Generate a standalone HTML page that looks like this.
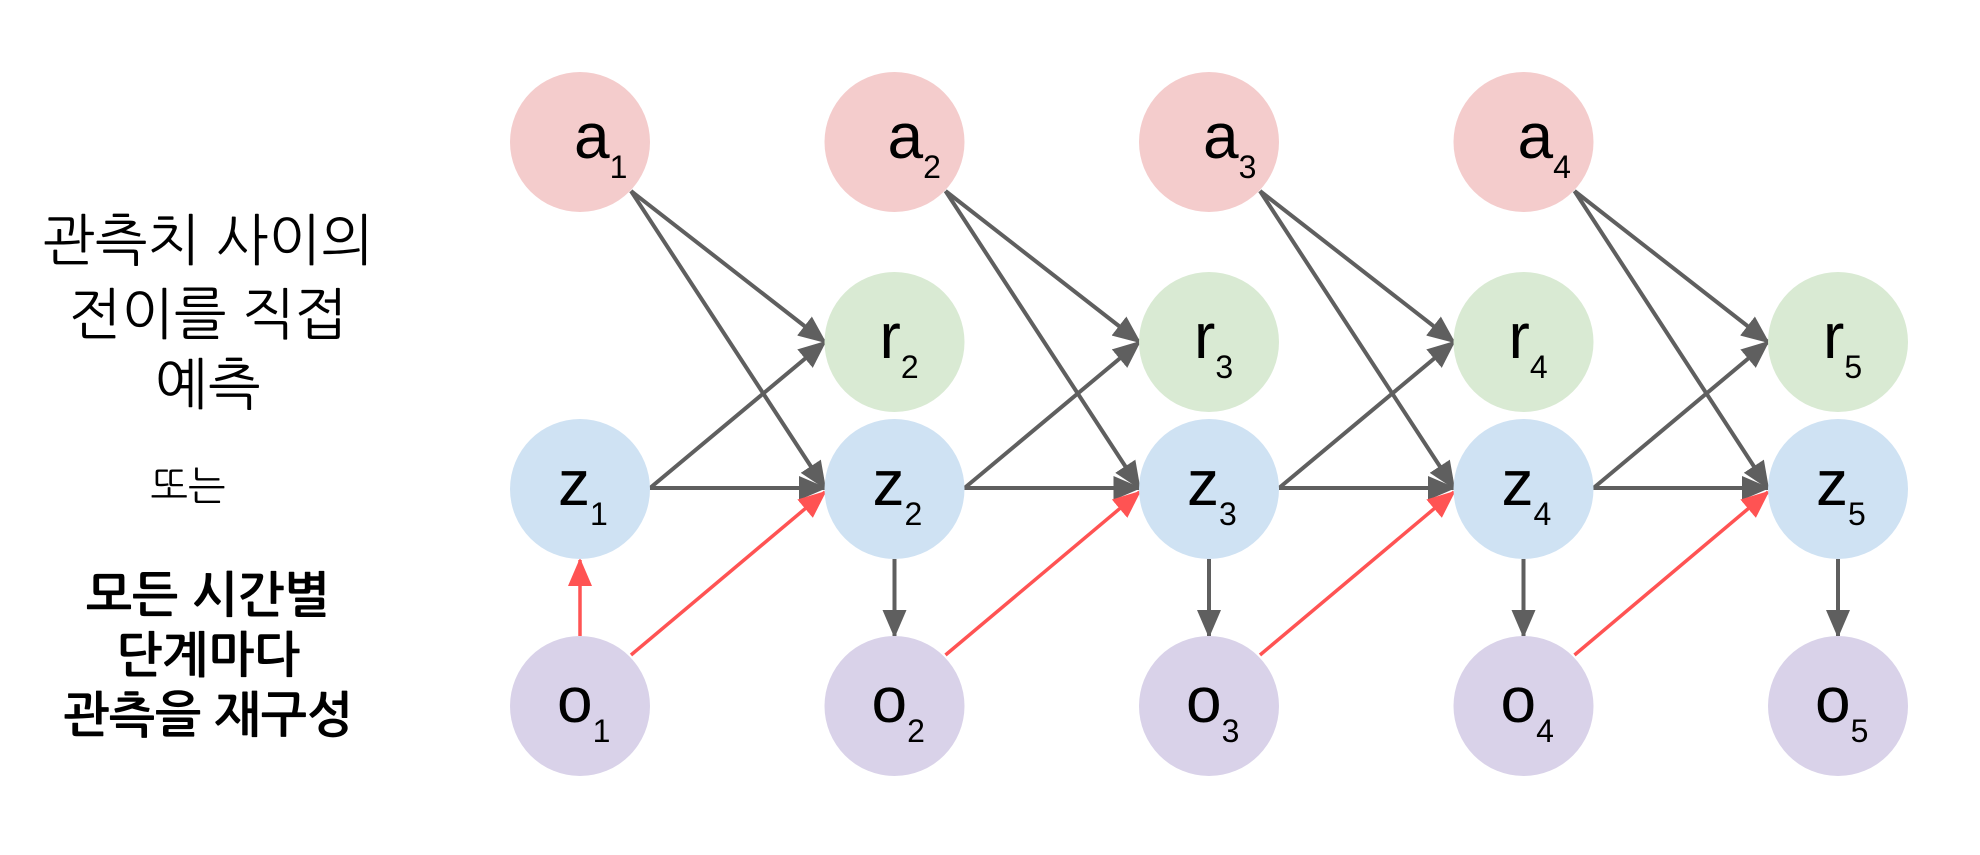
<!DOCTYPE html>
<html><head><meta charset="utf-8"><style>
html,body{margin:0;padding:0;background:#fff;}
svg{display:block;}
</style></head><body>
<svg width="1980" height="855" viewBox="0 0 1980 855" xmlns="http://www.w3.org/2000/svg">
<defs>
<marker id="g" markerUnits="userSpaceOnUse" markerWidth="28" markerHeight="24" refX="26" refY="12" orient="auto"><path d="M0,0 L28,12 L0,24 Z" fill="#5f5f5f"/></marker>
<marker id="rd" markerUnits="userSpaceOnUse" markerWidth="28" markerHeight="24" refX="26" refY="12" orient="auto"><path d="M0,0 L28,12 L0,24 Z" fill="#ff5353"/></marker>
</defs>
<g font-family="'Liberation Sans','NanumGothic','Noto Sans CJK KR',sans-serif" text-anchor="middle" fill="#000">
<text x="208" y="260" font-size="56">관측치 사이의</text>
<text x="208" y="334" font-size="56">전이를 직접</text>
<text x="208" y="404" font-size="56">예측</text>
<text x="188" y="500" font-size="40">또는</text>
<text x="208" y="612" font-size="49" font-weight="bold">모든 시간별</text>
<text x="208" y="672" font-size="49" font-weight="bold">단계마다</text>
<text x="208" y="732" font-size="49" font-weight="bold">관측을 재구성</text>
</g>
<g stroke-width="4" fill="none">
<g stroke="#5f5f5f">
<line x1="631" y1="191" x2="825" y2="342" marker-end="url(#g)"/>
<line x1="631" y1="191" x2="825" y2="488" marker-end="url(#g)"/>
<line x1="650" y1="488" x2="825" y2="342" marker-end="url(#g)"/>
<line x1="650" y1="488" x2="825" y2="488" marker-end="url(#g)"/>
<line x1="945.5" y1="191" x2="1139.5" y2="342" marker-end="url(#g)"/>
<line x1="945.5" y1="191" x2="1139.5" y2="488" marker-end="url(#g)"/>
<line x1="964.5" y1="488" x2="1139.5" y2="342" marker-end="url(#g)"/>
<line x1="964.5" y1="488" x2="1139.5" y2="488" marker-end="url(#g)"/>
<line x1="1260" y1="191" x2="1454" y2="342" marker-end="url(#g)"/>
<line x1="1260" y1="191" x2="1454" y2="488" marker-end="url(#g)"/>
<line x1="1279" y1="488" x2="1454" y2="342" marker-end="url(#g)"/>
<line x1="1279" y1="488" x2="1454" y2="488" marker-end="url(#g)"/>
<line x1="1574.5" y1="191" x2="1768" y2="342" marker-end="url(#g)"/>
<line x1="1574.5" y1="191" x2="1768" y2="488" marker-end="url(#g)"/>
<line x1="1593.5" y1="488" x2="1768" y2="342" marker-end="url(#g)"/>
<line x1="1593.5" y1="488" x2="1768" y2="488" marker-end="url(#g)"/>
<line x1="894.5" y1="559" x2="894.5" y2="636" marker-end="url(#g)"/>
<line x1="1209" y1="559" x2="1209" y2="636" marker-end="url(#g)"/>
<line x1="1523.5" y1="559" x2="1523.5" y2="636" marker-end="url(#g)"/>
<line x1="1838" y1="559" x2="1838" y2="636" marker-end="url(#g)"/>
</g>
<g stroke="#ff5353" stroke-width="3.5">
<line x1="580" y1="636" x2="580" y2="560" marker-end="url(#rd)"/>
<line x1="631" y1="655" x2="825" y2="492" marker-end="url(#rd)"/>
<line x1="945.5" y1="655" x2="1139.5" y2="492" marker-end="url(#rd)"/>
<line x1="1260" y1="655" x2="1454" y2="492" marker-end="url(#rd)"/>
<line x1="1574.5" y1="655" x2="1768" y2="492" marker-end="url(#rd)"/>
</g>
</g>
<g font-family="'Liberation Sans',sans-serif" fill="#000" font-size="64">
<circle cx="580" cy="142" r="70" fill="#f4cccc"/><text x="574" y="158">a<tspan font-size="32" dy="20">1</tspan></text>
<circle cx="894.5" cy="142" r="70" fill="#f4cccc"/><text x="573" y="158" transform="translate(314.5,0)">a<tspan font-size="32" dy="20">2</tspan></text>
<circle cx="1209" cy="142" r="70" fill="#f4cccc"/><text x="574" y="158" transform="translate(629,0)">a<tspan font-size="32" dy="20">3</tspan></text>
<circle cx="1523.5" cy="142" r="70" fill="#f4cccc"/><text x="574" y="158" transform="translate(943.5,0)">a<tspan font-size="32" dy="20">4</tspan></text>

<circle cx="894.5" cy="342" r="70" fill="#d9ead3"/><text x="595" y="358" transform="translate(284.5,0)">r<tspan font-size="32" dy="20">2</tspan></text>
<circle cx="1209" cy="342" r="70" fill="#d9ead3"/><text x="595" y="358" transform="translate(599,0)">r<tspan font-size="32" dy="20">3</tspan></text>
<circle cx="1523.5" cy="342" r="70" fill="#d9ead3"/><text x="595" y="358" transform="translate(913.5,0)">r<tspan font-size="32" dy="20">4</tspan></text>
<circle cx="1838" cy="342" r="70" fill="#d9ead3"/><text x="595" y="358" transform="translate(1228,0)">r<tspan font-size="32" dy="20">5</tspan></text>

<circle cx="580" cy="489" r="70" fill="#cfe2f3"/><text x="558" y="505">z<tspan font-size="32" dy="20">1</tspan></text>
<circle cx="894.5" cy="489" r="70" fill="#cfe2f3"/><text x="558" y="505" transform="translate(314.5,0)">z<tspan font-size="32" dy="20">2</tspan></text>
<circle cx="1209" cy="489" r="70" fill="#cfe2f3"/><text x="558" y="505" transform="translate(629,0)">z<tspan font-size="32" dy="20">3</tspan></text>
<circle cx="1523.5" cy="489" r="70" fill="#cfe2f3"/><text x="558" y="505" transform="translate(943.5,0)">z<tspan font-size="32" dy="20">4</tspan></text>
<circle cx="1838" cy="489" r="70" fill="#cfe2f3"/><text x="558" y="505" transform="translate(1258,0)">z<tspan font-size="32" dy="20">5</tspan></text>

<circle cx="580" cy="706" r="70" fill="#d9d2e9"/><text x="557" y="722">o<tspan font-size="32" dy="20">1</tspan></text>
<circle cx="894.5" cy="706" r="70" fill="#d9d2e9"/><text x="557" y="722" transform="translate(314.5,0)">o<tspan font-size="32" dy="20">2</tspan></text>
<circle cx="1209" cy="706" r="70" fill="#d9d2e9"/><text x="557" y="722" transform="translate(629,0)">o<tspan font-size="32" dy="20">3</tspan></text>
<circle cx="1523.5" cy="706" r="70" fill="#d9d2e9"/><text x="557" y="722" transform="translate(943.5,0)">o<tspan font-size="32" dy="20">4</tspan></text>
<circle cx="1838" cy="706" r="70" fill="#d9d2e9"/><text x="557" y="722" transform="translate(1258,0)">o<tspan font-size="32" dy="20">5</tspan></text>
</g>
</svg>
</body></html>
